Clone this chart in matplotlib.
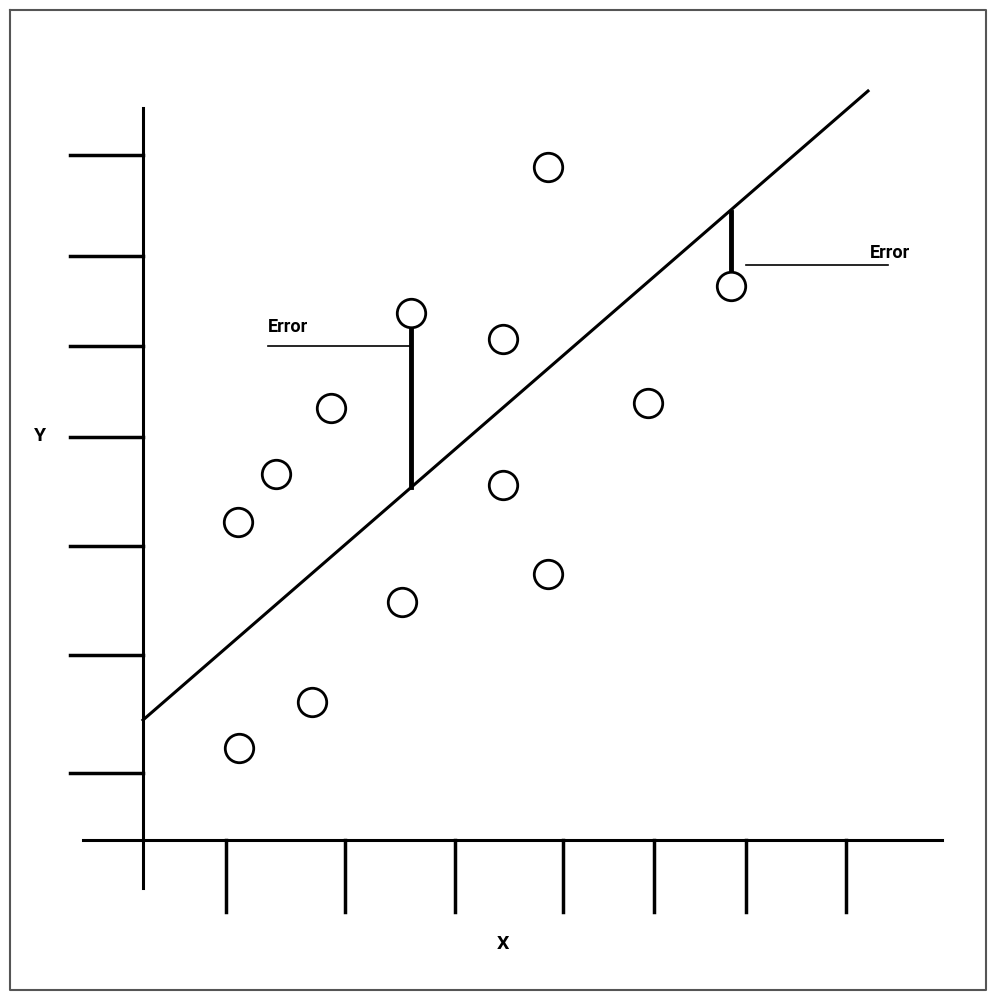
import matplotlib
matplotlib.use("Agg")
import matplotlib.pyplot as plt

# data points (diagram units, pixel-like, y downward)
pt_x = [238, 276, 331, 411, 503, 548, 503, 402, 548, 648, 731, 312, 239]
pt_y = [522, 474, 408, 313, 339, 167, 485, 602, 574, 403, 286, 702, 748]
reg_x = [143, 868]
reg_y = [720, 91]
ytick_pos = [155, 256, 346, 437, 546, 655, 773]
xtick_pos = [226, 345, 455, 563, 654, 746, 846]

fig = plt.figure(figsize=(9.94, 9.98), dpi=100)
ax = fig.add_axes([0, 0, 1, 1])
ax.set_xlim(0, 994)
ax.set_ylim(998, 0)
ax.axis('off')

k = 'black'
ax.plot([10, 986, 986, 10, 10], [10, 10, 990, 990, 10], color='#555555', lw=1.5)
ax.plot([143, 143], [108, 888], color=k, lw=2.2)
ax.plot([83, 942], [840, 840], color=k, lw=2.2)
for y in ytick_pos:
    ax.plot([70, 143], [y, y], color=k, lw=2.5)
for x in xtick_pos:
    ax.plot([x, x], [840, 912], color=k, lw=2.5)
ax.plot(reg_x, reg_y, color=k, lw=2.2)

# errors
ax.plot([411, 411], [325, 487], color=k, lw=3.5)
ax.plot([268, 411], [346, 346], color=k, lw=1.2)
ax.text(268, 336, "Error", fontsize=13, fontweight='bold', family='Roboto', ha='left', va='bottom')
ax.plot([731, 731], [212, 273], color=k, lw=3.5)
ax.plot([746, 888], [265, 265], color=k, lw=1.2)
ax.text(870, 262, "Error", fontsize=13, fontweight='bold', family='Roboto', ha='left', va='bottom')

ax.scatter(pt_x, pt_y, s=420, facecolor='white', edgecolor=k, linewidth=2, zorder=5)

ax.text(40, 436, "Y", fontsize=14, fontweight='bold', family='Roboto', ha='center', va='center')
ax.text(503, 944, "X", fontsize=14, fontweight='bold', family='Roboto', ha='center', va='center')

fig.savefig("out.png", dpi=100)
